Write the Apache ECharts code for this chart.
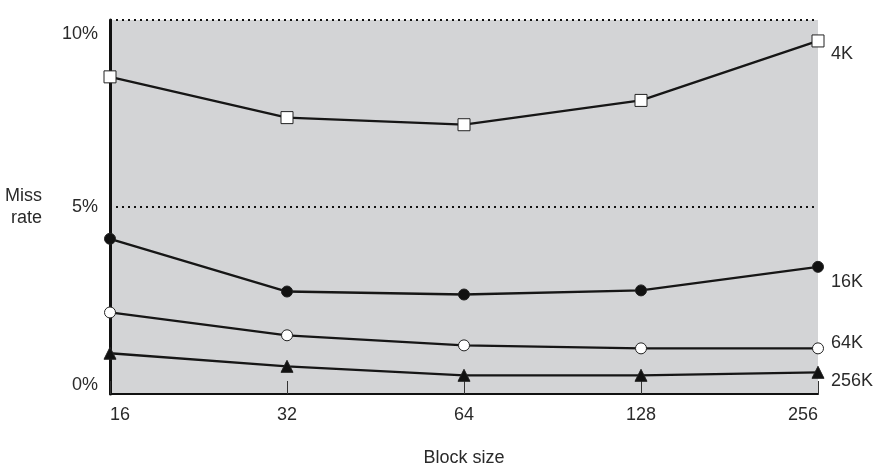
<!DOCTYPE html>
<html lang="en">
<head>
    <meta charset="UTF-8">
    <title>Miss rate vs block size</title>
    <script src="https://cdn.jsdelivr.net/npm/echarts@6/dist/echarts.min.js"></script>
    <style>
        body { margin: 0; background: #fff; }
    </style>
</head>
<body>
<div id="main" style="width: 886px;height:468px;"></div>

<script type="text/javascript">
    var blockSizes = ['16', '32', '64', '128', '256'];
    var cacheNames = ['4K', '16K', '64K', '256K'];
    var miss4K = [8.48, 7.39, 7.2, 7.85, 9.44];
    var miss16K = [4.15, 2.74, 2.66, 2.77, 3.40];
    var miss64K = [2.18, 1.57, 1.30, 1.22, 1.22];
    var miss256K = [1.09, 0.74, 0.50, 0.50, 0.58];

    var font = 'Liberation Sans, Arial, sans-serif';
    var txt = '#2a2a2a';
    var myChart = echarts.init(document.getElementById('main'));

    function makeSeries(name, data, symbol, fill, size, dy) {
        return {
            name: name,
            type: 'line',
            data: data,
            symbol: symbol,
            symbolSize: size,
            lineStyle: { color: '#161616', width: 2.3 },
            itemStyle: { color: fill, borderColor: '#222', borderWidth: 1 },
            endLabel: {
                show: true,
                formatter: name,
                color: txt,
                fontFamily: font,
                fontSize: 18,
                distance: 13,
                offset: [0, dy]
            },
            z: 3
        };
    }

    myChart.setOption({
        animation: false,
        grid: {
            left: 110, right: 68, top: 20, bottom: 74,
            outerBoundsMode: 'none',
            show: true, backgroundColor: '#d3d4d6', borderWidth: 0
        },
        xAxis: {
            type: 'category',
            data: blockSizes,
            boundaryGap: false,
            name: 'Block size',
            nameLocation: 'middle',
            nameGap: 55,
            nameTextStyle: { color: txt, fontFamily: font, fontSize: 18 },
            axisLine: { lineStyle: { color: '#111', width: 2 } },
            axisTick: { inside: true, length: 13, lineStyle: { color: '#333', width: 1 } },
            axisLabel: {
                color: txt, fontFamily: font, fontSize: 18, margin: 12,
                alignMinLabel: 'left', alignMaxLabel: 'right'
            },
            splitLine: { show: false }
        },
        yAxis: {
            type: 'value',
            min: 0, max: 10, interval: 5,
            name: 'Miss\nrate',
            nameLocation: 'middle',
            nameRotate: 0,
            nameGap: 68,
            nameTextStyle: { color: txt, fontFamily: font, fontSize: 18, lineHeight: 22, padding: [24, 0, 0, 0] },
            axisLine: { show: true, lineStyle: { color: '#111', width: 3 } },
            axisTick: { show: false },
            axisLabel: {
                color: txt, fontFamily: font, fontSize: 18, margin: 12,
                formatter: function (v) {
                    if (v === 10) return '{top|10%}';
                    if (v === 0) return '{bot|0%}';
                    return v + '%';
                },
                rich: {
                    top: { fontFamily: font, fontSize: 18, color: txt, padding: [28, 0, 0, 0] },
                    bot: { fontFamily: font, fontSize: 18, color: txt, padding: [0, 0, 18, 0] }
                }
            },
            splitLine: { show: true, lineStyle: { color: '#111', type: [2, 4], width: 2 } }
        },
        series: [
            makeSeries(cacheNames[0], miss4K, 'rect', '#ffffff', 12, 13),
            makeSeries(cacheNames[1], miss16K, 'circle', '#111111', 11, 15),
            makeSeries(cacheNames[2], miss64K, 'circle', '#ffffff', 11, -5),
            makeSeries(cacheNames[3], miss256K, 'triangle', '#111111', 12, 9)
        ]
    });
</script>
</body>
</html>
